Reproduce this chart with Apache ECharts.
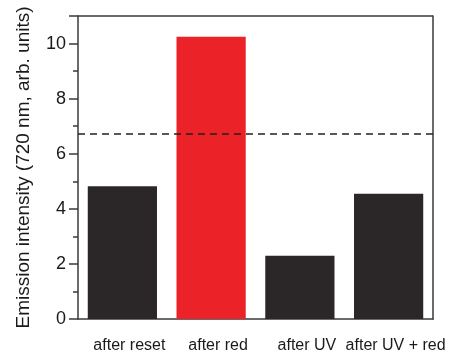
<!DOCTYPE html>
<html>
<head>
<meta charset="utf-8">
<script src="https://cdn.jsdelivr.net/npm/echarts@6/dist/echarts.min.js"></script>
<style>
  html, body { margin: 0; padding: 0; background: #fff; }
  #chart { width: 454px; height: 354px; }
</style>
</head>
<body>
<div id="chart"></div>
<script>
// Emission intensity at 720 nm after each illumination step
const categories = ['after reset', 'after red', 'after UV', 'after UV + red'];
const intensity = [4.82, 10.25, 2.3, 4.55];
const barColors = ['#2b2627', '#ec2229', '#2b2627', '#2b2627'];
const thresholdLevel = 6.72;
const yTicks = [0, 2, 4, 6, 8, 10];

const axisColor = '#3a3a3a';
const textColor = '#1a1a1a';
const font = 'Liberation Sans, Arial, sans-serif';

const chart = echarts.init(document.getElementById('chart'), null, { renderer: 'canvas' });
chart.setOption({
  animation: false,
  grid: { left: 78, right: 21, top: 16, bottom: 32 },
  xAxis: {
    type: 'category',
    data: categories,
    axisLine: { lineStyle: { color: axisColor, width: 1.5 } },
    axisTick: { alignWithLabel: true, length: 7, lineStyle: { color: axisColor, width: 1.5 } },
    axisLabel: {
      interval: 0, color: textColor, fontFamily: font, fontSize: 16, margin: 19,
      padding: [0, 0, 0, 14]
    }
  },
  yAxis: [{
    type: 'value',
    min: 0,
    max: 11,
    interval: 2,
    name: 'Emission intensity (720 nm, arb. units)',
    nameLocation: 'middle',
    nameGap: 45,
    nameTextStyle: { color: textColor, fontFamily: font, fontSize: 19 },
    axisLine: { show: true, lineStyle: { color: axisColor, width: 1.5 } },
    axisTick: { show: true, length: 9, lineStyle: { color: axisColor, width: 1.5 } },
    minorTick: { show: true, splitNumber: 2, length: 5, lineStyle: { color: axisColor, width: 1.5 } },
    splitLine: { show: false },
    axisLabel: {
      color: textColor, fontFamily: font, fontSize: 18, margin: 12,
      formatter: v => yTicks.includes(v) ? String(v) : ''
    }
  }, {
    type: 'value',
    min: 0,
    max: 11,
    position: 'right',
    axisLine: { show: true, lineStyle: { color: axisColor, width: 1.5 } },
    axisTick: { show: false },
    axisLabel: { show: false },
    splitLine: { show: false }
  }],
  series: [{
    type: 'bar',
    data: intensity.map((v, i) => ({ value: v, itemStyle: { color: barColors[i] } })),
    barWidth: '78%',
    markLine: {
      silent: true,
      symbol: 'none',
      label: { show: false },
      lineStyle: { color: '#222', type: [7, 5], width: 1.5 },
      data: [{ yAxis: thresholdLevel }]
    }
  }, {
    // top frame line at the axis maximum
    type: 'line',
    data: [],
    markLine: {
      silent: true,
      symbol: 'none',
      label: { show: false },
      lineStyle: { color: axisColor, type: 'solid', width: 1.5 },
      data: [{ yAxis: 11 }]
    }
  }]
});
</script>
</body>
</html>
